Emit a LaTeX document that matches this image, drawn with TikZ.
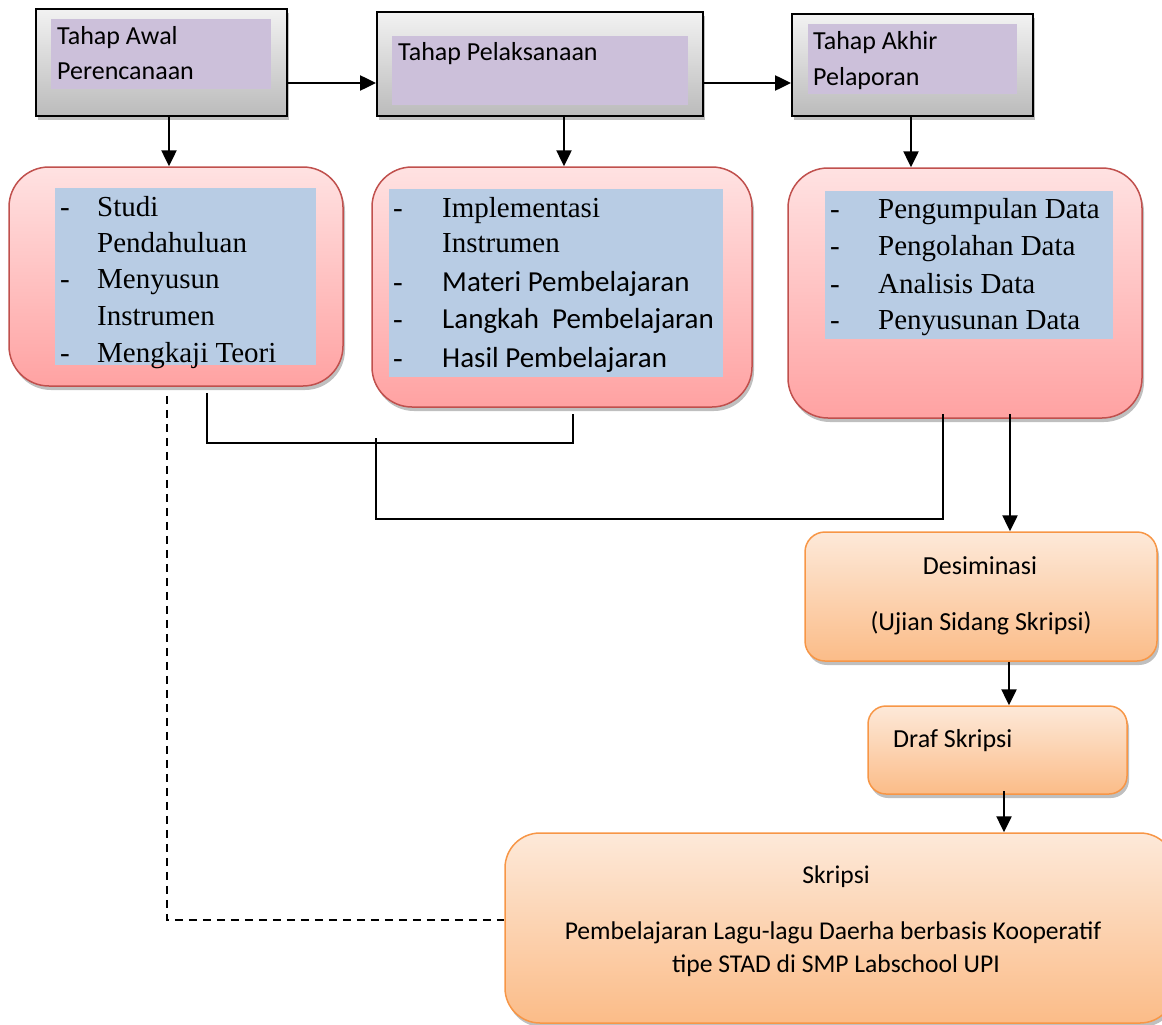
\documentclass[tikz,border=0pt]{standalone}
\usepackage{fontspec}
\setmainfont{Liberation Serif}
\newfontfamily\calfont{Carlito}
\usetikzlibrary{arrows.meta,shadows,calc}
\definecolor{grayT}{HTML}{F2F2F2}
\definecolor{grayB}{HTML}{BBBBBB}
\definecolor{purpF}{HTML}{CCC0DA}
\definecolor{blueF}{HTML}{B8CCE4}
\definecolor{redT}{HTML}{FFE2E2}
\definecolor{redB}{HTML}{FFA2A2}
\definecolor{redD}{HTML}{C0504D}
\definecolor{orT}{HTML}{FDE9D9}
\definecolor{orB}{HTML}{FBBC88}
\definecolor{orD}{HTML}{F79646}
\tikzset{
  shad/.style={drop shadow={shadow xshift=2pt,shadow yshift=-4pt,opacity=0.25,fill=black}},
  graybox/.style={draw=black,line width=2pt,top color=grayT,bottom color=grayB,shad,inner sep=0pt},
  purpbox/.style={fill=purpF,inner sep=0pt},
  bluebox/.style={fill=blueF,inner sep=0pt},
  redbox/.style={draw=redD,line width=1.5pt,top color=redT,bottom color=redB,rounded corners=40pt,shad,inner sep=0pt},
  orbox/.style={draw=orD,line width=1.5pt,top color=orT,bottom color=orB,shad,inner sep=0pt},
  ctxt/.style={anchor=base west,inner sep=0pt,font=\calfont\fontsize{26}{32}\selectfont},
  ctxc/.style={anchor=base,inner sep=0pt,font=\calfont\fontsize{26}{32}\selectfont},
  sktxt/.style={anchor=base,inner sep=0pt,font=\calfont\fontsize{25.6}{30}\selectfont},
  ttxt/.style={anchor=base west,inner sep=0pt,font=\fontsize{29}{35}\selectfont},
  ltxt/.style={anchor=base west,inner sep=0pt,font=\calfont\fontsize{29}{35}\selectfont},
  arr/.style={-{Triangle[length=16pt,width=15pt]},line width=2.5pt},
  conn/.style={line width=2pt},
  dconn/.style={line width=2pt,dash pattern=on 8pt off 6pt},
}
\begin{document}
\begin{tikzpicture}[x=1pt,y=-1pt]
\useasboundingbox (0,0) rectangle (1162,1025);
% top gray boxes
\node[graybox,minimum width=251,minimum height=107] (g1) at (161.5,62.5) {};
\node[purpbox,minimum width=220,minimum height=70] (p1) at (161,54) {};
\node[graybox,minimum width=326,minimum height=104] (g2) at (540,64) {};
\node[purpbox,minimum width=296,minimum height=69] (p2) at (540,70.5) {};
\node[graybox,minimum width=241,minimum height=102] (g3) at (912.5,65) {};
\node[purpbox,minimum width=209,minimum height=70] (p3) at (912.5,59) {};
\node[ctxt] (g1a) at (57,45) {Tahap Awal};
\node[ctxt] (g1b) at (57,80) {Perencanaan};
\node[ctxt] (g2a) at (398,61) {Tahap Pelaksanaan};
\node[ctxt] (g3a) at (813,50) {Tahap Akhir};
\node[ctxt] (g3b) at (813,85) {Pelaporan};
% red boxes
\node[redbox,minimum width=334,minimum height=219] (r1) at (176,276.5) {};
\node[bluebox,minimum width=261,minimum height=177] (b1) at (185.5,276.5) {};
\node[redbox,minimum width=380,minimum height=240] (r2) at (562,287) {};
\node[bluebox,minimum width=334,minimum height=188] (b2) at (556,283) {};
\node[redbox,minimum width=354,minimum height=250] (r3) at (965,293) {};
\node[bluebox,minimum width=288,minimum height=148] (b3) at (969,265) {};
% list 1
\node[ttxt] (d11) at (60,216) {-};
\node[ttxt] (t11) at (97,216) {Studi};
\node[ttxt] (t12) at (97,252) {Pendahuluan};
\node[ttxt] (d13) at (60,288) {-};
\node[ttxt] (t13) at (97,288) {Menyusun};
\node[ttxt] (t14) at (97,325) {Instrumen};
\node[ttxt] (d15) at (60,362) {-};
\node[ttxt] (t15) at (97,362) {Mengkaji Teori};
% list 2
\node[ttxt] (d21) at (393,217) {-};
\node[ttxt] (t21) at (442,217) {Implementasi};
\node[ttxt] (t22) at (442,252) {Instrumen};
\node[ttxt] (d23) at (393,291) {-};
\node[ltxt] (t23) at (442,291) {Materi Pembelajaran};
\node[ttxt] (d24) at (393,328) {-};
\node[ltxt] (t24) at (442,328) {Langkah\ \ Pembelajaran};
\node[ttxt] (d25) at (393,367) {-};
\node[ltxt] (t25) at (442,367) {Hasil Pembelajaran};
% list 3
\node[ttxt] (d31) at (830,218) {-};
\node[ttxt] (t31) at (878,218) {Pengumpulan Data};
\node[ttxt] (d32) at (830,255) {-};
\node[ttxt] (t32) at (878,255) {Pengolahan Data};
\node[ttxt] (d33) at (830,293) {-};
\node[ttxt] (t33) at (878,293) {Analisis Data};
\node[ttxt] (d34) at (830,329) {-};
\node[ttxt] (t34) at (878,329) {Penyusunan Data};
% orange boxes
\node[orbox,rounded corners=20pt,minimum width=352,minimum height=129] (de) at (981,596.5) {};
\node[ctxc] (de1) at (980,574) {Desiminasi};
\node[ctxc] (de2) at (981,630) {(Ujian Sidang Skripsi)};
\node[orbox,rounded corners=18pt,minimum width=259,minimum height=88] (dr) at (997.5,750) {};
\node[ctxt] (dr1) at (893,747) {Draf Skripsi};
\begin{scope}
\clip (0,0) rectangle (1162,1025);
\node[orbox,rounded corners=35pt,minimum width=670,minimum height=190] (sk) at (840,928) {};
\end{scope}
\node[sktxt] (sk1) at (836,883) {Skripsi};
\node[sktxt] (sk2) at (833,939) {Pembelajaran Lagu-lagu Daerha berbasis Kooperatif};
\node[sktxt] (sk3) at (836,972) {tipe STAD di SMP Labschool UPI};
% coordinates
\coordinate (ya) at (0,83);
\coordinate (x1) at (169,0);
\coordinate (x2) at (564,0);
\coordinate (x3) at (911,0);
\coordinate (x4) at (1010,0);
\coordinate (x5) at (1009,0);
\coordinate (x6) at (1004,0);
% arrows
\draw[arr] (g1.east |- ya) -- (g2.west |- ya);
\draw[arr] (g2.east |- ya) -- (g3.west |- ya);
\draw[arr] (g1.south -| x1) -- (r1.north -| x1);
\draw[arr] (g2.south -| x2) -- (r2.north -| x2);
\draw[arr] (g3.south -| x3) -- (r3.north -| x3);
\draw[arr] ([yshift=5pt]r3.south -| x4) -- (de.north -| x4);
\draw[arr] (de.south -| x5) -- (dr.north -| x5);
\draw[arr] ([yshift=4pt]dr.south -| x6) -- (sk.north -| x6);
% connectors
\coordinate (c1) at (207,0);
\coordinate (c2) at (573,0);
\coordinate (c3) at (376,0);
\coordinate (c4) at (943,0);
\coordinate (h1) at (0,443);
\coordinate (h2) at (0,519);
\draw[conn] ([yshift=-6pt]r1.south -| c1) |- (c2 |- h1) -- ([yshift=-6pt]r2.south -| c2);
\draw[conn] (c3 |- 0,438) |- (c4 |- h2) -- ([yshift=5pt]r3.south -| c4);
\coordinate (c5) at (167,0);
\coordinate (h3) at (0,920);
\draw[dconn] ([yshift=-9pt]r1.south -| c5) |- (sk.west |- h3);
\end{tikzpicture}
\end{document}
